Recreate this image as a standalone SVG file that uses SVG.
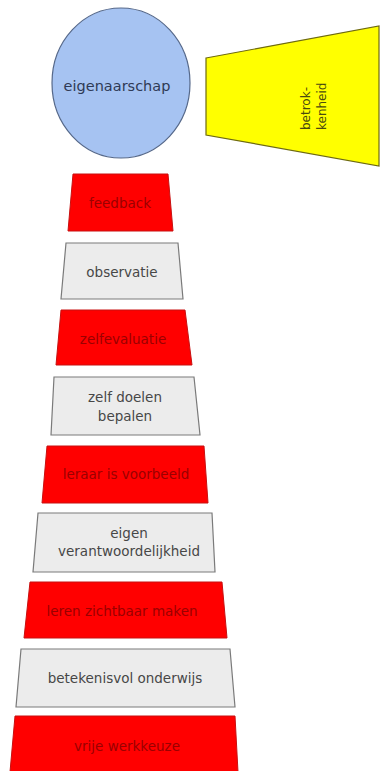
<svg xmlns="http://www.w3.org/2000/svg" width="380" height="771" viewBox="0 0 380 771">
<style>
text{font-family:"DejaVu Sans","Liberation Sans",sans-serif;font-size:13.5px;text-anchor:middle}
.red{fill:#ff0000;stroke:#c81010;stroke-width:1}
.gray{fill:#ececec;stroke:#7a7a7a;stroke-width:1.2}
.tr{fill:#9a0000}
.tg{fill:#474747}
.ty{fill:#4a4a10;font-size:12px;text-anchor:start}
</style>
<rect width="380" height="771" fill="#ffffff"/>
<g id="eigenaarschap">
<ellipse cx="121" cy="83" rx="69" ry="75" fill="#a6c3f2" stroke="#55688a" stroke-width="1.2"/>
<text x="117" y="91" style="fill:#2f3a55;font-size:14.5px">eigenaarschap</text>
</g>
<g id="betrokkenheid">
<polygon points="206,58 379,26 379,166 206,135" fill="#ffff00" stroke="#6e6a10" stroke-width="1.2"/>
<text class="ty" transform="translate(310,130) rotate(-90)">betrok-</text>
<text class="ty" transform="translate(326,130) rotate(-90)">kenheid</text>
</g>
<g id="feedback">
<polygon class="red" points="73,174 168,174 173,231 68,231"/>
<text class="tr" x="120" y="208">feedback</text>
</g>
<g id="observatie">
<polygon class="gray" points="66,243 178,243 183,299 61,299"/>
<text class="tg" x="122" y="277">observatie</text>
</g>
<g id="zelfevaluatie">
<polygon class="red" points="61,310 185,310 192,365 56,365"/>
<text class="tr" x="123" y="344">zelfevaluatie</text>
</g>
<g id="zelf-doelen-bepalen">
<polygon class="gray" points="54,377 194,377 200,435 51,435"/>
<text class="tg" x="125" y="402">zelf doelen</text>
<text class="tg" x="125" y="421">bepalen</text>
</g>
<g id="leraar-is-voorbeeld">
<polygon class="red" points="47,446 204,446 208,503 42,503"/>
<text class="tr" x="126" y="479">leraar is voorbeeld</text>
</g>
<g id="eigen-verantwoordelijkheid">
<polygon class="gray" points="38,513 212,513 215,572 33,572"/>
<text class="tg" x="129" y="538">eigen</text>
<text class="tg" x="129" y="556">verantwoordelijkheid</text>
</g>
<g id="leren-zichtbaar-maken">
<polygon class="red" points="30,582 222,582 227,638 24,638"/>
<text class="tr" x="122" y="616">leren zichtbaar maken</text>
</g>
<g id="betekenisvol-onderwijs">
<polygon class="gray" points="21,649 230,649 235,707 16,707"/>
<text class="tg" x="125" y="683">betekenisvol onderwijs</text>
</g>
<g id="vrije-werkkeuze">
<polygon class="red" points="15,716 235,716 238,772 10,772"/>
<text class="tr" x="127" y="751">vrije werkkeuze</text>
</g>
</svg>
